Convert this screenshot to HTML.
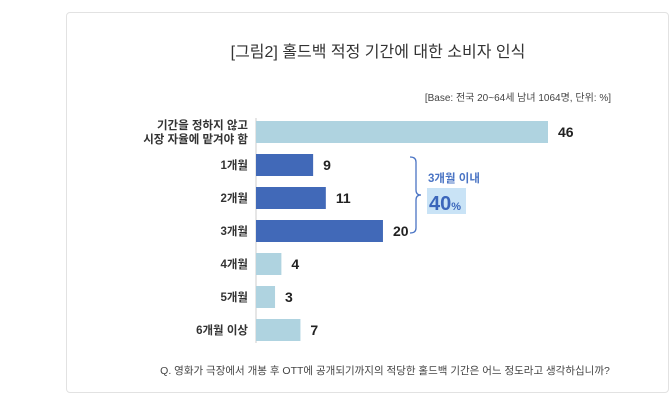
<!DOCTYPE html>
<html><head><meta charset="utf-8"><style>
body{margin:0;width:670px;height:401px;background:#fff;overflow:hidden;font-family:"Liberation Sans","Noto Sans CJK KR",sans-serif;}
.card{position:absolute;left:66px;top:12px;width:601px;height:379px;border:1px solid #e2e2e2;border-radius:4px;background:#fff;}
</style></head><body>
<div class="card"></div>
<svg width="670" height="401" style="position:absolute;left:0;top:0">
<text x="378" y="57" text-anchor="middle" font-size="16" fill="#333" font-family="Liberation Sans, Noto Sans CJK KR, sans-serif">[그림2] 홀드백 적정 기간에 대한 소비자 인식</text>
<text x="611" y="101" text-anchor="end" font-size="10" fill="#444" font-family="Liberation Sans, Noto Sans CJK KR, sans-serif">[Base: 전국 20~64세 남녀 1064명, 단위: %]</text>
<line x1="256" y1="118" x2="256" y2="343" stroke="#ccc"/>
<g id="bars"></g>
<path d="M410 157 q6 0 6 5 v28 q0 5 5 5 q-5 0 -5 5 v28 q0 5 -6 5" fill="none" stroke="#4a74c4" stroke-width="1.3"/>
<text x="428" y="182" font-size="11.5" font-weight="bold" fill="#4a74c4" font-family="Liberation Sans, Noto Sans CJK KR, sans-serif">3개월 이내</text>
<rect x="427" y="188" width="39" height="26" fill="#c9e3f6"/>
<text x="429" y="210" font-size="20" font-weight="bold" fill="#3b66bb">40<tspan font-size="11">%</tspan></text>
<text x="385" y="374" text-anchor="middle" font-size="10.5" fill="#444" font-family="Liberation Sans, Noto Sans CJK KR, sans-serif">Q. 영화가 극장에서 개봉 후 OTT에 공개되기까지의 적당한 홀드백 기간은 어느 정도라고 생각하십니까?</text>
</svg>
<script>
const categories=[["기간을 정하지 않고","시장 자율에 맡겨야 함"],["1개월"],["2개월"],["3개월"],["4개월"],["5개월"],["6개월 이상"]];
const values=[46,9,11,20,4,3,7];
const highlighted=[false,true,true,true,false,false,false];
const x0=256,scale=(548-256)/46;
function xs(v){return x0+v*scale;}
function yc(i){return 132+i*33;}
const g=document.getElementById('bars');
const NS="http://www.w3.org/2000/svg";
values.forEach((v,i)=>{
 const r=document.createElementNS(NS,'rect');
 r.setAttribute('x',x0);r.setAttribute('y',yc(i)-11);
 r.setAttribute('width',xs(v)-x0);r.setAttribute('height',22);
 r.setAttribute('fill',highlighted[i]?'#4169b8':'#afd3e0');
 
 
 g.appendChild(r);
 const t=document.createElementNS(NS,'text');
 t.setAttribute('x',xs(v)+10);t.setAttribute('y',yc(i)+5);
 t.setAttribute('font-size','14');t.setAttribute('font-weight','bold');t.setAttribute('fill','#222');
 t.textContent=v;
 
 
 g.appendChild(t);
 const lines=categories[i];
 lines.forEach((s,j)=>{
  const c=document.createElementNS(NS,'text');
  c.setAttribute('x',248);
  c.setAttribute('y',yc(i)+4+(j-(lines.length-1)/2)*14);
  c.setAttribute('text-anchor','end');c.setAttribute('font-size','11.5');c.setAttribute('font-weight','bold');c.setAttribute('fill','#333');
  c.setAttribute('font-family','Liberation Sans, Noto Sans CJK KR, sans-serif');
  c.textContent=s;
  
  
  g.appendChild(c);
 });
});
</script>
</body></html>
